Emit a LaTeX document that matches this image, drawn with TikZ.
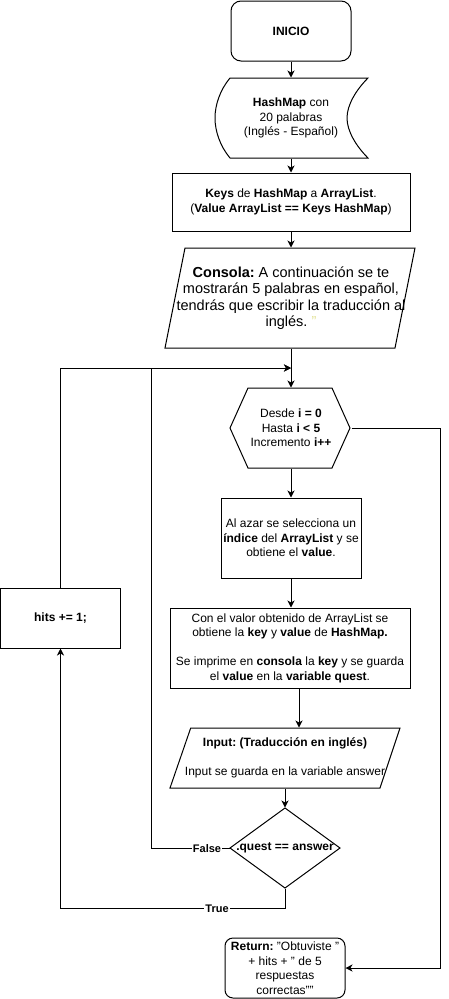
\documentclass[tikz,border=0pt]{standalone}
\usepackage{fontspec}
\setmainfont{Liberation Sans}
\usetikzlibrary{arrows.meta}
\definecolor{qyellow}{RGB}{225,225,150}
\frenchspacing
\begin{document}
\begin{tikzpicture}[x=1pt,y=-1pt, line width=1pt,
  arr/.style={-{Stealth[length=7pt,width=7pt,inset=2pt]}},
  txt/.style={align=center, font=\fontsize{12}{14.5}\selectfont, inner sep=0pt},
  lbl/.style={fill=white, font=\bfseries\fontsize{11}{12}\selectfont, inner sep=1pt},
  box/.style={draw, rectangle, txt},
  area/.style={rectangle, txt}
]
\useasboundingbox (0,0) rectangle (449,999);

% shapes drawn directly
\draw (230,78) -- (368,78) .. controls (356,90) and (347,105) .. (347,118)
  .. controls (347,131) and (356,146) .. (368,158) -- (230,158)
  .. controls (220,146) and (215,131) .. (215,118)
  .. controls (215,105) and (220,90) .. (230,78) -- cycle;
\draw (185,248) -- (415,248) -- (395,348) -- (165,348) -- cycle;
\draw (230,428) -- (248,388) -- (332,388) -- (350,428) -- (332,468) -- (248,468) -- cycle;
\draw (190.7,728) -- (400,728) -- (380,788) -- (170,788) -- cycle;
\draw (285,808) -- (340,848) -- (285,888) -- (230,848) -- cycle;

% nodes
\node[box, rounded corners=10pt, minimum width=120pt, minimum height=60pt] (inicio) at (291,31) {\textbf{INICIO}};
\node[area, minimum width=138pt, minimum height=80pt] (hashmap) at (291,118)
  {\textbf{HashMap} con\\20 palabras\\(Inglés - Español)};
\node[box, minimum width=238pt, minimum height=58pt] (keys) at (291,202)
  {\textbf{Keys} de \textbf{HashMap} a \textbf{ArrayList}.\\(\textbf{Value ArrayList == Keys HashMap})};
\node[area, minimum width=230pt, minimum height=100pt, font=\fontsize{14.5}{16.5}\selectfont] (consola) at (291,298)
  {\textbf{Consola:} A continuación se te\\mostrarán 5 palabras en español,\\tendrás que escribir la traducción al\\inglés. \textcolor{qyellow}{"}};
\coordinate (merge) at (291,368);
\node[area, minimum width=120pt, minimum height=80pt] (hex) at (291,428)
  {Desde \textbf{i = 0}\\Hasta \textbf{i < 5}\\Incremento \textbf{i++}};
\node[box, minimum width=140pt, minimum height=80pt] (azar) at (291,538)
  {Al azar se selecciona un\\\textbf{índice} del \textbf{ArrayList} y se\\obtiene el \textbf{value}.};
\node[box, minimum width=240pt, minimum height=80pt] (valor) at (290,648)
  {Con el valor obtenido de ArrayList se\\obtiene la \textbf{key} y \textbf{value} de \textbf{HashMap.}\\[14.5pt]Se imprime en \textbf{consola} la \textbf{key} y se guarda\\el \textbf{value} en la \textbf{variable quest}.};
\node[area, minimum width=210pt, minimum height=60pt] (input) at (285,758)
  {\textbf{Input: (Traducción en inglés)}\\[14.5pt]Input se guarda en la variable answer};
\node[area, minimum width=110pt, minimum height=80pt] (cond) at (285,848)
  {\textbf{.quest == answer}};
\node[box, minimum width=120pt, minimum height=60pt] (hits) at (60.5,618) {\textbf{hits += 1;}};
\node[box, rounded corners=8pt, minimum width=120pt, minimum height=60pt] (ret) at (285,968)
  {\textbf{Return:} "Obtuviste "\\+ hits + " de 5\\respuestas\\correctas""};

% connectors
\draw[arr] (inicio.south) -- (hashmap.north);
\draw[arr] (hashmap.south) -- (keys.north);
\draw[arr] (keys.south) -- (consola.north);
\draw[arr] (consola.south) -- (hex.north);
\draw[arr] (hex.south) -- (azar.north);
\draw[arr] (azar.south) -- (azar.south |- valor.north);
\draw[arr] ([xshift=9pt]valor.south) -- ([xshift=9pt]valor.south |- input.north);
\draw[arr] (input.south) -- (cond.north);
\draw[arr] (hex.east) -- (440,428) -- (440,968) -- (ret.east);
\draw[arr] (hits.north) -- (60.5,368) -- (merge);
\draw[arr] (cond.west) -- (151,848) -- (151,368) -- (merge);
\draw[arr] (cond.south) -- (285,908) -- (60.5,908) -- (hits.south);
\node[lbl] at (207,849) {False};
\node[lbl] at (217,909) {True};
\end{tikzpicture}
\end{document}
